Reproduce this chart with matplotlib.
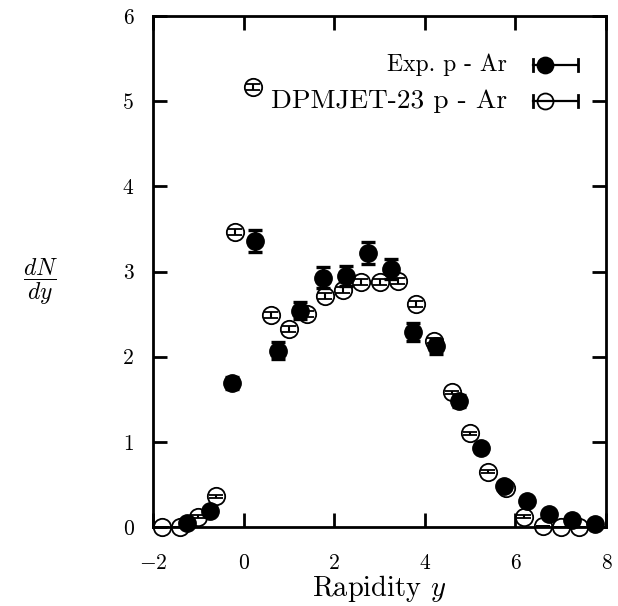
import matplotlib
matplotlib.use('Agg')
import matplotlib.pyplot as plt

plt.rcParams['font.family'] = 'cmr10'
plt.rcParams['mathtext.fontset'] = 'cm'
plt.rcParams['axes.unicode_minus'] = False

# ---- data ----
exp_x = [-1.25, -0.75, -0.25, 0.25, 0.75, 1.25, 1.75, 2.25, 2.75, 3.25,
         3.75, 4.25, 4.75, 5.25, 5.75, 6.25, 6.75, 7.25, 7.75]
exp_y = [0.05, 0.19, 1.69, 3.36, 2.07, 2.54, 2.93, 2.95, 3.22, 3.03,
         2.29, 2.12, 1.48, 0.93, 0.48, 0.30, 0.15, 0.08, 0.03]
exp_err = [0.02, 0.03, 0.07, 0.13, 0.10, 0.10, 0.12, 0.12, 0.13, 0.12,
           0.11, 0.09, 0.07, 0.05, 0.03, 0.02, 0.02, 0.01, 0.01]

dpm_x = [-1.8, -1.4, -1.0, -0.6, -0.2, 0.2, 0.6, 1.0, 1.4, 1.8, 2.2, 2.6,
         3.0, 3.4, 3.8, 4.2, 4.6, 5.0, 5.4, 5.8, 6.2, 6.6, 7.0, 7.4]
dpm_y = [0.0, 0.0, 0.12, 0.36, 3.47, 5.17, 2.49, 2.33, 2.50, 2.71, 2.78, 2.88,
         2.88, 2.89, 2.62, 2.19, 1.58, 1.10, 0.65, 0.46, 0.12, 0.01, 0.0, 0.0]
dpm_err = [0.0, 0.0, 0.015, 0.015, 0.035, 0.035, 0.035, 0.035, 0.035, 0.035, 0.035, 0.035,
           0.035, 0.035, 0.035, 0.035, 0.015, 0.015, 0.015, 0.015, 0.015, 0.0, 0.0, 0.0]

x_ticks = [-2, 0, 2, 4, 6, 8]
y_ticks = [0, 1, 2, 3, 4, 5, 6]
exp_label = 'Exp. p - Ar'
dpm_label = 'DPMJET-23 p - Ar'

fig = plt.figure(figsize=(6.18, 6.06), dpi=100)
ax = fig.add_axes([0.2476, 0.1304, 0.733, 0.843])

ms = 12.5
ax.errorbar(exp_x, exp_y, yerr=exp_err, fmt='o', color='black', ms=ms,
            mfc='black', mec='black', elinewidth=2, capsize=5, capthick=2.4,
            clip_on=False, zorder=3)
ax.errorbar(dpm_x, dpm_y, yerr=dpm_err, fmt='o', color='black', ms=ms,
            mfc='none', mec='black', mew=1.3, elinewidth=1.5, capsize=5,
            capthick=2.6, clip_on=False, zorder=4)

ax.set_xlim(-2, 8)
ax.set_ylim(0, 6)
ax.set_xticks(x_ticks)
ax.set_xticklabels(['$%d$' % v if v < 0 else '%d' % v for v in x_ticks])
ax.set_yticks(y_ticks)
ax.set_yticklabels(['%d' % v for v in y_ticks])
for s in ax.spines.values():
    s.set_linewidth(2)
ax.tick_params(direction='in', length=10, width=2, top=True, right=True,
               labelsize=15.5)
ax.tick_params(axis='x', pad=19)
ax.tick_params(axis='y', pad=14)

ax.set_xlabel('Rapidity $y$', fontsize=20.5, labelpad=0)
fig.text(0.066, 0.535, r'$\dfrac{dN}{dy}$', fontsize=17, ha='center', va='center')

# legend (gnuplot style)
tr = ax.transAxes
rows = [(0.904, exp_label, 'black', 17), (0.834, dpm_label, 'none', 19.7)]
for yy, lab, fc, fs in rows:
    ax.text(0.781, yy, lab, transform=tr, ha='right', va='center', fontsize=fs)
    ax.plot([0.839, 0.938], [yy, yy], transform=tr, color='black', lw=1.6,
            clip_on=False)
    for cx in (0.839, 0.938):
        ax.plot([cx, cx], [yy - 0.012, yy + 0.012], transform=tr, color='black',
                lw=2, clip_on=False)
    ax.plot([0.865], [yy], transform=tr, marker='o', ms=ms - 1, mfc=fc,
            mec='black', mew=1.3, color='black', clip_on=False)

fig.savefig('out.png', dpi=100)
